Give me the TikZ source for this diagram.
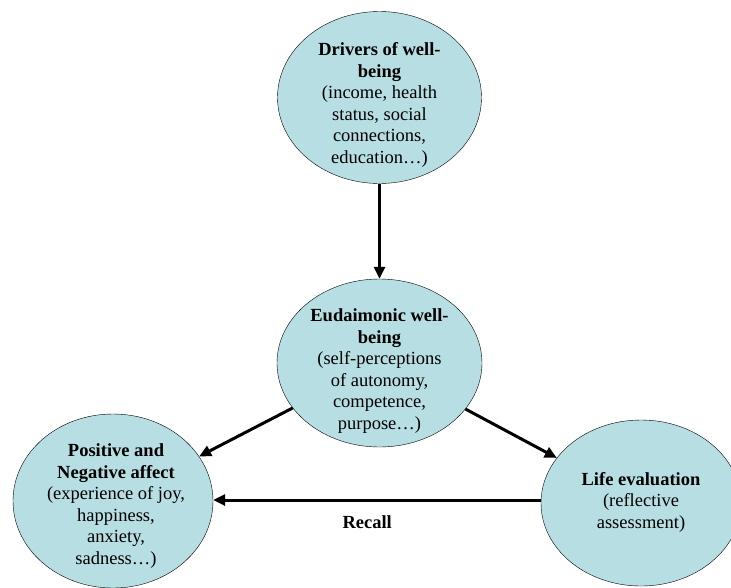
\documentclass[tikz,border=0pt]{standalone}
\usepackage{fontspec}
\setmainfont{Liberation Serif}
\usetikzlibrary{shapes.geometric,arrows.meta}
\definecolor{wbblue}{RGB}{183,223,227}
\begin{document}
\begin{tikzpicture}[x=1pt, y=-1pt,
    blob/.style={ellipse, draw, thin, fill=wbblue, inner sep=0pt,
                 minimum width=204pt, minimum height=172pt},
    txt/.style={align=center, inner sep=0pt, font=\fontsize{18.5}{21.5}\selectfont},
    link/.style={line width=3pt, -{Triangle[length=12pt,width=11pt]}}]
  \useasboundingbox (0,0) rectangle (731,587);
  \clip (0,0) rectangle (731,587);
  % circles
  \node [blob]                                          (drv)  at (379.5, 97.5) {};
  \node [blob, minimum width=205pt, minimum height=168pt] (eud) at (379.5,363) {};
  \node [blob, minimum width=200pt, minimum height=174pt] (aff) at (113,501) {};
  \node [blob, minimum width=200pt, minimum height=166pt] (life) at (641,503) {};
  % texts
  \node [txt] (drvtxt)  at (379.5,105) {\textbf{Drivers of well-}\\\textbf{being}\\(income, health\\status, social\\connections,\\education…)};
  \node [txt] (eudtxt)  at (379.5,371) {\textbf{Eudaimonic well-}\\\textbf{being}\\(self-perceptions\\of autonomy,\\competence,\\purpose…)};
  \node [txt] (afftxt)  at (116,506)   {\textbf{Positive and}\\\textbf{Negative affect}\\(experience of joy,\\happiness,\\anxiety,\\sadness…)};
  \node [txt] (lifetxt) at (641,502)   {\textbf{Life evaluation}\\(reflective\\assessment)};
  % arrows
  \draw [link] (drv) -- (eud);
  \draw [link] (eud) -- (aff);
  \draw [link] (eud) -- (life);
  \draw [link] (life.west |- 0,500) -- node (recall) [txt, below=14pt, pos=0.53] {\textbf{Recall}} (aff.east |- 0,500);
\end{tikzpicture}
\end{document}
